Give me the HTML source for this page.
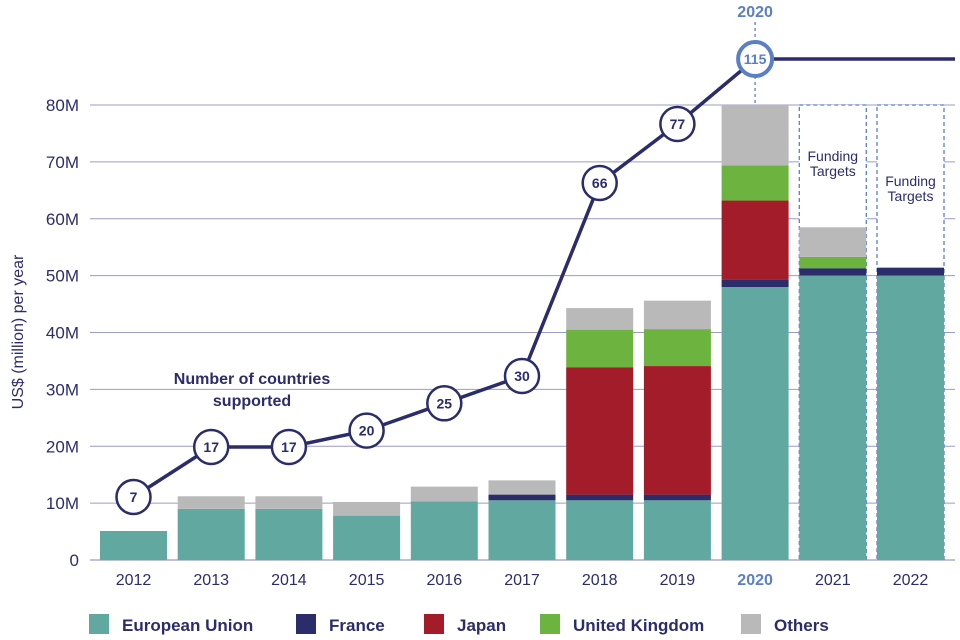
<!DOCTYPE html>
<html><head><meta charset="utf-8"><style>
body{margin:0;background:#fff;}
svg{display:block;font-family:"Liberation Sans",sans-serif;}
</style></head><body>
<svg id="chart" width="960" height="640"></svg>
<script>
const years=["2012","2013","2014","2015","2016","2017","2018","2019","2020","2021","2022"];
const eu=[5.1,9,9,7.8,10.3,10.5,10.5,10.5,48,50,50];
const france=[0,0,0,0,0,1,1,1,1.3,1.3,1.4];
const japan=[0,0,0,0,0,0,22.4,22.6,13.9,0,0];
const uk=[0,0,0,0,0,0,6.6,6.5,6.2,2,0];
const others=[0,2.2,2.2,2.4,2.6,2.5,3.8,5,10.6,5.2,0];
const countries=[7,17,17,20,25,30,66,77,115];
const yTicks=[0,10,20,30,40,50,60,70,80];
const yTickLabels=["0","10M","20M","30M","40M","50M","60M","70M","80M"];
const targetYears=["2021","2022"];
const targetValue=80;
const highlightYear="2020";

const NS="http://www.w3.org/2000/svg";
const svg=document.getElementById('chart');
function el(t,a,p){const e=document.createElementNS(NS,t);for(const k in a)e.setAttribute(k,a[k]);(p||svg).appendChild(e);return e;}
const y=v=>560-v*5.6875;
const x=i=>133.5+i*77.7;
const bw=67;
// count scale (piecewise, matches reference line placement)
const cK=[[0,532],[7,497],[17,447],[30,376],[66,183],[77,124],[115,59]];
function cy(v){for(let i=1;i<cK.length;i++){if(v<=cK[i][0]||i==cK.length-1){const a=cK[i-1],b=cK[i];return a[1]+(v-a[0])*(b[1]-a[1])/(b[0]-a[0]);}}}
const navy="#2b2d6b";
yTicks.forEach((t,i)=>{
  const g=el('line',{x1:90,x2:955,y1:y(t),y2:y(t),stroke:i==0?"#8080ac":"#9c9cc4","stroke-width":1});
  
  
  const tx=el('text',{x:79,y:y(t)+6,"text-anchor":"end","font-size":17,fill:navy});
  tx.textContent=yTickLabels[i];
  
  
});
const yt=el('text',{transform:"translate(23,332) rotate(-90)","text-anchor":"middle","font-size":16,fill:navy});
yt.textContent="US$ (million) per year";


targetYears.forEach(yr=>{
  const i=years.indexOf(yr);
  const r=el('rect',{x:x(i)-bw/2,y:y(targetValue),width:bw,height:y(0)-y(targetValue)-1,fill:"#fff",stroke:"#5b7fc7","stroke-width":1.3,"stroke-dasharray":"4,3"});
  
  
});
const series=[[eu,"#61a8a0","eu"],[france,"#2b2d6b","france"],[japan,"#a31c2a","japan"],[uk,"#6db33f","uk"],[others,"#b9b9b9","others"]];
years.forEach((yr,i)=>{
  let base=0;
  series.forEach(s=>{
    const v=s[0][i];if(v<=0)return;
    const r=el('rect',{x:x(i)-bw/2,y:y(base+v),width:bw,height:y(base)-y(base+v),fill:s[1]});
    
    
    base+=v;
  });
  const t=el('text',{x:x(i),y:585,"text-anchor":"middle","font-size":16,fill:yr==highlightYear?"#5b7fc7":navy,"font-weight":yr==highlightYear?"bold":"normal"});
  t.textContent=yr;
  
  
});
targetYears.forEach((yr,k)=>{
  const i=years.indexOf(yr);
  const t=el('text',{x:x(i),y:k==0?161:186,"text-anchor":"middle","font-size":14,fill:navy});
  t.innerHTML='<tspan x="'+x(i)+'">Funding</tspan><tspan x="'+x(i)+'" dy="15">Targets</tspan>';
  
  
});
const hi=years.indexOf(highlightYear);
const hl=el('line',{x1:x(hi),x2:x(hi),y1:22,y2:105,stroke:"#5b7fc7","stroke-width":1.3,"stroke-dasharray":"3,3"});


const ht=el('text',{x:x(hi),y:17,"text-anchor":"middle","font-size":16,"font-weight":"bold",fill:"#5b7fc7"});
ht.textContent=highlightYear;


const pts=countries.map((c,i)=>x(i)+","+cy(c));
const last=countries.length-1;
pts.push("955,"+cy(countries[last]));
const pl=el('polyline',{points:pts.join(" "),fill:"none",stroke:navy,"stroke-width":3.5});


countries.forEach((c,i)=>{
  const isH=years[i]==highlightYear;
  const ci=el('circle',{cx:x(i),cy:cy(c),r:isH?17:17,fill:"#fff",stroke:isH?"#5b7fc7":navy,"stroke-width":isH?4:2.5});
  
  
  const t=el('text',{x:x(i),y:cy(c)+5,"text-anchor":"middle","font-size":14,"font-weight":"bold",fill:isH?"#5b7fc7":navy});
  t.textContent=c;
  
  
});
const lt=el('text',{x:252,y:384,"text-anchor":"middle","font-size":16,"font-weight":"bold",fill:navy});
lt.innerHTML='<tspan x="252">Number of countries</tspan><tspan x="252" dy="22">supported</tspan>';


const legend=[["European Union","#61a8a0",89],["France","#2b2d6b",296],["Japan","#a31c2a",424],["United Kingdom","#6db33f",540],["Others","#b9b9b9",741]];
legend.forEach(l=>{
  const r=el('rect',{x:l[2],y:614,width:20,height:20,fill:l[1]});
  
  
  const t=el('text',{x:l[2]+33,y:631,"font-size":17,"font-weight":"bold",fill:navy});
  t.textContent=l[0];
  
  
});
</script>
</body></html>
